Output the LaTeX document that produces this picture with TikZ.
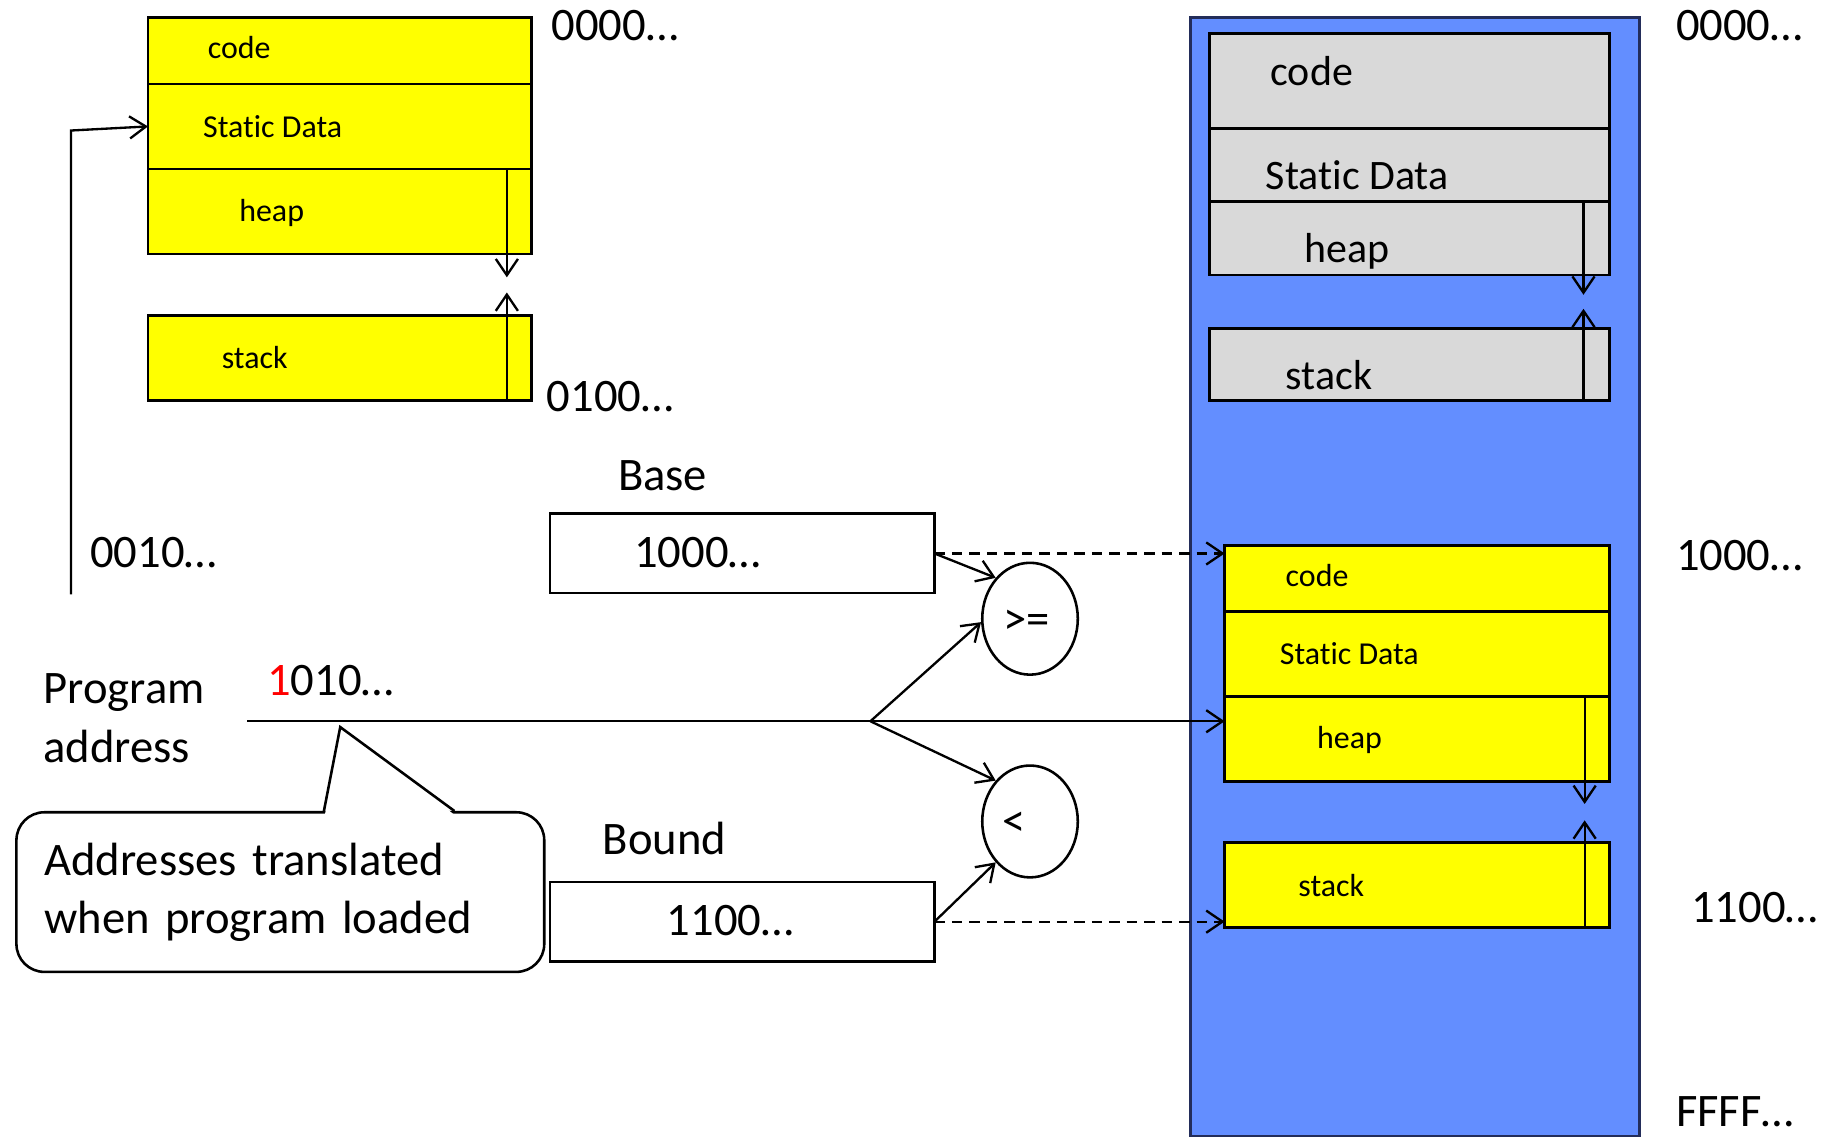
\documentclass[tikz,border=0pt]{standalone}
\usepackage{fontspec}
\setmainfont{Carlito}[Ligatures={NoCommon}]
\usetikzlibrary{arrows.meta,calc,shapes.geometric}
\definecolor{memblue}{RGB}{99,142,255}
\definecolor{memedge}{RGB}{35,45,90}
\definecolor{segyellow}{RGB}{255,255,0}
\definecolor{seggray}{RGB}{217,217,217}
\begin{document}
\begin{tikzpicture}[x=0.5pt,y=-0.5pt,
  seg/.style={draw=black, line width=1.2pt, inner sep=0pt, outer sep=0pt, anchor=north west, rectangle},
  yseg/.style={seg, fill=segyellow},
  gseg/.style={seg, fill=seggray, minimum width=171.5pt},
  regbox/.style={seg, fill=white, minimum width=165pt, minimum height=34pt},
  cmp/.style={draw=black, line width=1.1pt, ellipse, minimum width=41pt, minimum height=48pt, inner sep=0pt, fill=white},
  arr/.style={line width=1pt, -{Straight Barb[length=7pt,width=9.5pt,line width=1pt]}},
  dasharr/.style={arr, dash pattern=on 4.5pt off 3pt},
  big/.style={font=\fontsize{20}{24}\selectfont, anchor=base west, inner sep=0pt},
  small/.style={font=\fontsize{13.7}{16}\selectfont, anchor=base west, inner sep=0pt},
  mid/.style={font=\fontsize{18}{22}\selectfont, anchor=base west, inner sep=0pt},
]
\useasboundingbox (0,0) rectangle (1568,976);

% ---------- program address space (left) ----------
\node[yseg, minimum width=164.5pt, minimum height=28.5pt] (lcode) at (127,15) {};
\node[yseg, minimum width=164.5pt, minimum height=36.5pt] (lstatic) at (127,72) {};
\node[yseg, minimum width=164.5pt, minimum height=36.5pt] (lheap) at (127,145) {};
\node[yseg, minimum width=164.5pt, minimum height=36.5pt] (lstack) at (127,271) {};
\node[small] (lcodet) at (178,50) {code};
\node[small] (lstatict) at (174,118) {Static Data};
\node[small] (lheapt) at (205,190) {heap};
\node[small] (lstackt) at (190,316) {stack};
\coordinate (lheaptop) at (435,145);
\coordinate (lheaptip) at (435,238);
\coordinate (lstackbot) at (435,344);
\coordinate (lstacktip) at (435,251);
\draw[arr] (lheaptop) -- (lheaptip);
\draw[arr] (lstackbot) -- (lstacktip);
\node[big] (la0) at (473,35) {0000…};
\node[big] (la1) at (469,353) {0100…};
\node[big] (la2) at (77,487) {0010…};

\coordinate (lstart) at (61,510);
\coordinate (lbend) at (61,112);
\draw[arr] (lstart) -- (lbend) -- (lstatic.west);

% ---------- physical memory (right) ----------
\node[seg, draw=memedge, fill=memblue, minimum width=192.5pt, minimum height=480pt] (mem) at (1022,15) {};

\node[gseg, minimum height=40.5pt] (gcode) at (1038,29) {};
\node[gseg, minimum height=31.5pt] (gstatic) at (1038,110) {};
\node[gseg, minimum height=31.5pt] (gheap) at (1038,173) {};
\node[gseg, minimum height=31pt] (gstack) at (1038,282) {};
\node[mid] (gcodet) at (1090,73) {code};
\node[mid] (gstatict) at (1086,163) {Static Data};
\node[mid] (gheapt) at (1119,225) {heap};
\node[mid] (gstackt) at (1103,334) {stack};
\coordinate (gheaptop) at (1359,173);
\coordinate (gheaptip) at (1359,253);
\coordinate (gstackbot) at (1359,344);
\coordinate (gstacktip) at (1359,265);
\draw[arr] (gheaptop) -- (gheaptip);
\draw[arr] (gstackbot) -- (gstacktip);

\node[yseg, minimum width=165pt, minimum height=28.5pt] (ycode) at (1051,468) {};
\node[yseg, minimum width=165pt, minimum height=36.5pt] (ystatic) at (1051,525) {};
\node[yseg, minimum width=165pt, minimum height=36.5pt] (yheap) at (1051,598) {};
\node[yseg, minimum width=165pt, minimum height=36.5pt] (ystack) at (1051,723) {};
\node[small] (ycodet) at (1103,503) {code};
\node[small] (ystatict) at (1098,570) {Static Data};
\node[small] (yheapt) at (1130,642) {heap};
\node[small] (ystackt) at (1114,769) {stack};
\coordinate (yheaptop) at (1360,598);
\coordinate (yheaptip) at (1360,690);
\coordinate (ystackbot) at (1360,796);
\coordinate (ystacktip) at (1360,704);
\draw[arr] (yheaptop) -- (yheaptip);
\draw[arr] (ystackbot) -- (ystacktip);

\node[big] (ra0) at (1438,35) {0000…};
\node[big] (ra1) at (1438,490) {1000…};
\node[big] (ra2) at (1451,792) {1100…};
\node[big] (ra3) at (1438,967) {FFFF…};

% ---------- base / bound registers ----------
\node[big] (baset) at (530,421) {Base};
\node[regbox] (base) at (472,441) {};
\node[big] (basev) at (544,487) {1000…};
\node[big] (boundt) at (517,733) {Bound};
\node[regbox] (bound) at (472,757) {};
\node[big] (boundv) at (572,803) {1100…};

\node[cmp] (ge) at (884,531) {};
\node[font=\fontsize{20}{24}\selectfont, inner sep=0pt] (get) at (881,534) {>=};
\node[cmp] (lt) at (884,705) {};
\node[font=\fontsize{20}{24}\selectfont, inner sep=0pt] (ltt) at (870,707) {<};

\draw[dasharr] (base.east) -- (base.east -| ycode.west);
\draw[dasharr] (bound.east) -- (bound.east -| ystack.west);
\draw[arr] (base.east) -- (ge.130);
\draw[arr] (bound.east) -- (lt.230);

% ---------- program address ----------
\node[big] (pt1) at (37,604) {Program};
\node[big] (pt2) at (37,654) {address};
\node[big] (paddr) at (229,597) {{\color{red}1}010…};
\coordinate (pa) at (212,619);
\coordinate (br) at (747,619);
\draw[arr] (pa) -- (br) -- (pa -| yheap.west);
\draw[arr] (br) -- (ge.184);
\draw[arr] (br) -- (lt.130);

% ---------- callout ----------
\node[draw=black, line width=1.1pt, fill=white, rounded corners=12pt, anchor=north west,
      minimum width=226.5pt, minimum height=68.5pt, inner xsep=12pt, inner ysep=0pt,
      text width=202.5pt, align=left, font=\fontsize{20}{25}\selectfont] (note) at (13,696)
      {Addresses translated\\when program loaded};
\coordinate (tip) at (292,624);
\fill[white] ($(note.north west)+(266,2.5)$) -- (tip) -- ($(note.north west)+(376,2.5)$) -- cycle;
\draw[line width=1.1pt] ($(note.north west)+(265,0)$) -- (tip) -- ($(note.north west)+(377,0)$);
\end{tikzpicture}
\end{document}
